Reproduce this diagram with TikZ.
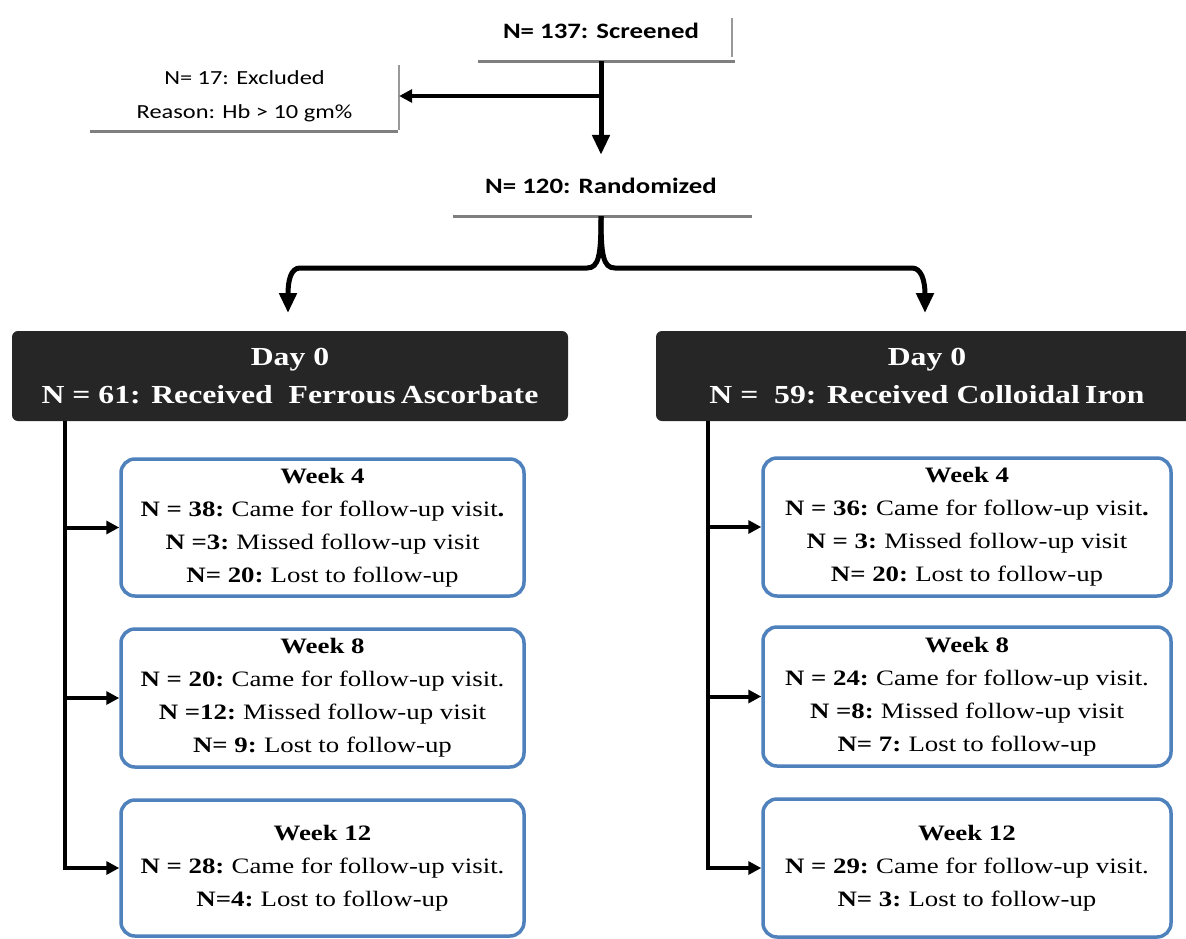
\documentclass[tikz,border=0pt]{standalone}
\usepackage{fontspec}
\setmainfont{Liberation Serif}[FakeStretch=1.22]
\newfontfamily\calibri{Carlito}[FakeStretch=1.22]
\usetikzlibrary{arrows.meta}
\definecolor{darkfill}{HTML}{262626}
\definecolor{blueline}{HTML}{4F81BD}
\definecolor{shadowgray}{HTML}{7F7F7F}
\begin{document}
\begin{tikzpicture}[x=1pt,y=-1pt,
  toptext/.style={font=\calibri\fontsize{22}{26}\selectfont\bfseries, inner sep=0pt, align=center},
  exctext/.style={font=\calibri\fontsize{20}{34}\selectfont, align=center, inner sep=0pt},
  shadowline/.style={draw=shadowgray, line width=3pt},
  edgeline/.style={draw=shadowgray!80, line width=1.5pt},
  darkbox/.style={fill=darkfill, rounded corners=6pt, minimum height=90pt, text=white,
    font=\fontsize{26}{38}\selectfont\bfseries, align=center, inner sep=0pt},
  weekbox/.style={draw=blueline, line width=3.5pt, rounded corners=14pt, fill=white,
    align=center, font=\fontsize{22}{33}\selectfont, inner sep=0pt},
  bigarrow/.style={line width=5pt, -{Triangle[length=20pt,width=17pt]}},
  sidearrow/.style={line width=4pt, -{Triangle[length=13pt,width=13pt]}},
  spine/.style={line width=4pt},
]
\useasboundingbox (0,0) rectangle (1186,938);
\fill[white] (0,0) rectangle (1186,938);

% top part
\node[toptext, minimum width=264pt, minimum height=61pt] (scr) at (601,30.5) {N= 137: Screened};
\draw[edgeline] (732,18) -- (732,57);
\draw[shadowline] (478,61) -- (735,61);

\node[exctext, minimum width=309pt, minimum height=68pt] (exc) at (244.5,96) {N= 17: Excluded\\Reason: Hb > 10 gm\%};
\draw[edgeline] (399,65) -- (399,130);
\draw[shadowline] (90,131) -- (398,131);

\node[toptext, minimum width=299pt, minimum height=61pt] (rnd) at (601,185.5) {N= 120: Randomized};
\draw[shadowline] (453,216) -- (752,216);

\draw[bigarrow] (scr.south) -- (rnd.north);
\draw[sidearrow] (scr.south |- exc.east) -- (exc.east);

% day boxes
\node[darkbox, minimum width=556pt] (d1) at (290,376) {Day 0\\N = 61: Received\ \ Ferrous\hspace{-0.1em} Ascorbate};
\node[darkbox, minimum width=542pt] (d2) at (927,376) {Day 0\\N =\ \ 59: Received Colloidal\hspace{-0.1em} Iron};

\coordinate (tipL) at (288,313);
\coordinate (tipR) at (925,313);
\draw[bigarrow] (rnd.south) .. controls (601,255) and (599,268) .. (587,268) -- (300,268)
  .. controls (291,268) and (288,280) .. (tipL);
\draw[bigarrow] (rnd.south) .. controls (601,255) and (603,268) .. (615,268) -- (912,268)
  .. controls (921,268) and (925,280) .. (tipR);

% left column
\node[weekbox, minimum width=403pt, minimum height=137pt] (l4) at (322.5,527.5)
 {\textbf{Week 4}\\\textbf{N = 38:}\hspace{-0.08em} Came for follow-up visit\textbf{.}\\\textbf{N =3:}\hspace{-0.08em} Missed follow-up visit\\\textbf{N= 20:}\hspace{-0.08em} Lost to follow-up};
\node[weekbox, minimum width=403pt, minimum height=138pt] (l8) at (322.5,698)
 {\textbf{Week 8}\\\textbf{N = 20:}\hspace{-0.08em} Came for follow-up visit.\\\textbf{N =12:}\hspace{-0.08em} Missed follow-up visit\\\textbf{N= 9:}\hspace{-0.08em} Lost to follow-up};
\node[weekbox, minimum width=403pt, minimum height=136pt] (l12) at (322.5,868)
 {\textbf{Week 12}\\\textbf{N = 28:}\hspace{-0.08em} Came for follow-up visit.\\\textbf{N=4:}\hspace{-0.08em} Lost to follow-up};

% right column
\node[weekbox, minimum width=408pt, minimum height=138pt] (r4) at (967,527)
 {\textbf{Week 4}\\\textbf{N = 36:}\hspace{-0.08em} Came for follow-up visit\textbf{.}\\\textbf{N = 3:}\hspace{-0.08em} Missed follow-up visit\\\textbf{N= 20:}\hspace{-0.08em} Lost to follow-up};
\node[weekbox, minimum width=408pt, minimum height=139pt] (r8) at (967,696.5)
 {\textbf{Week 8}\\\textbf{N = 24:}\hspace{-0.08em} Came for follow-up visit.\\\textbf{N =8:}\hspace{-0.08em} Missed follow-up visit\\\textbf{N= 7:}\hspace{-0.08em} Lost to follow-up};
\node[weekbox, minimum width=408pt, minimum height=138pt] (r12) at (967,868)
 {\textbf{Week 12}\\\textbf{N = 29:}\hspace{-0.08em} Came for follow-up visit.\\\textbf{N= 3:}\hspace{-0.08em} Lost to follow-up};

% spines
\coordinate (ls) at (65,0);
\coordinate (rs) at (708,0);
\draw[spine, sidearrow] (ls |- d1.south) -- (ls |- l12.west) -- (l12.west);
\draw[sidearrow] (ls |- l4.west) -- (l4.west);
\draw[sidearrow] (ls |- l8.west) -- (l8.west);
\draw[spine, sidearrow] (rs |- d2.south) -- (rs |- r12.west) -- (r12.west);
\draw[sidearrow] (rs |- r4.west) -- (r4.west);
\draw[sidearrow] (rs |- r8.west) -- (r8.west);
\end{tikzpicture}
\end{document}
